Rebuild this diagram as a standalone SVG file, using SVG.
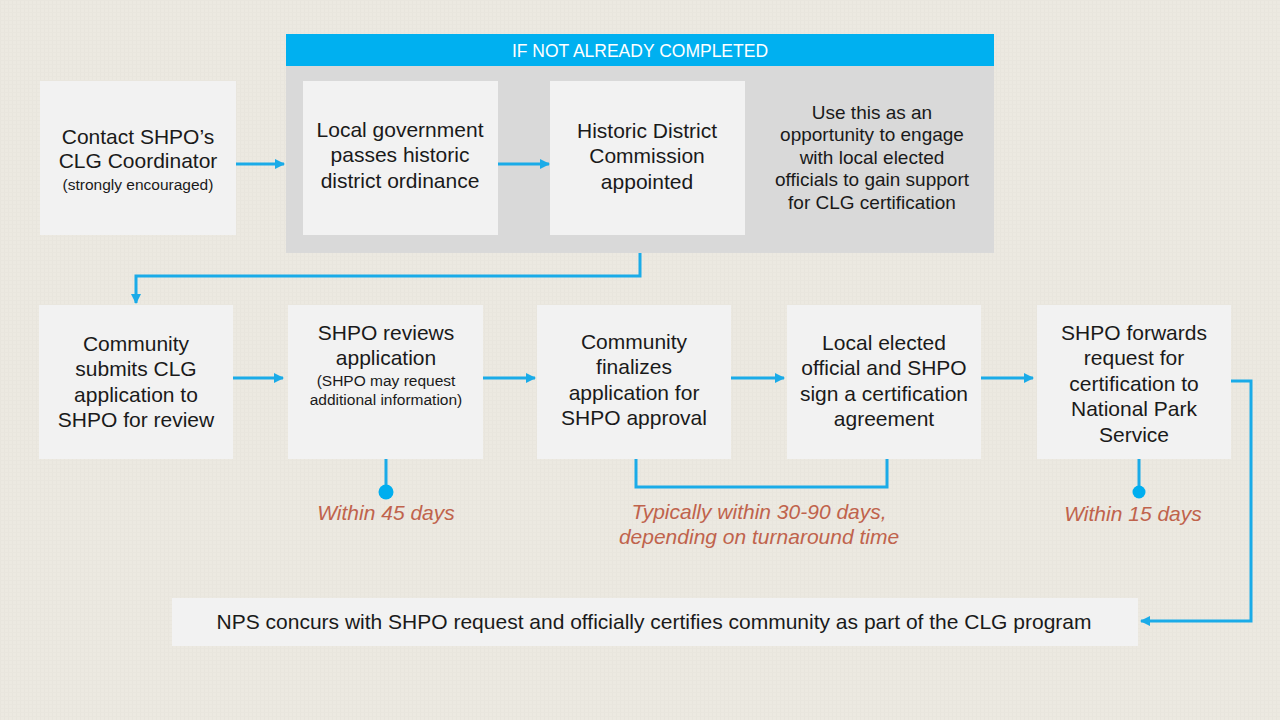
<svg xmlns="http://www.w3.org/2000/svg" width="1280" height="720" viewBox="0 0 1280 720">
<defs>
<marker id="arr" viewBox="0 0 10 10" refX="9" refY="5" markerWidth="3.4" markerHeight="3.4" orient="auto" markerUnits="strokeWidth">
<path d="M0,0 L10,5 L0,10 z" fill="#1AABE8"/>
</marker>
<pattern id="tex" width="4" height="4" patternUnits="userSpaceOnUse">
<rect width="4" height="4" fill="#ECE9E1"/>
<rect width="1" height="4" fill="#E8E5DD"/>
<rect width="4" height="1" fill="#E9E6DE"/>
</pattern>
</defs>
<style>
.box{fill:#F2F2F2}
.t{font-family:"Liberation Sans",Arial,sans-serif;font-size:21px;fill:#1A1A1A;text-anchor:middle}
.s{font-size:15.5px}
.m{font-size:19px}
.o{font-family:"Liberation Sans",Arial,sans-serif;font-size:21px;font-style:italic;fill:#C0634C;text-anchor:middle}
.c{fill:none;stroke:#1AABE8;stroke-width:3}
</style>
<rect width="1280" height="720" fill="url(#tex)"/>

<g id="panel">
<rect x="286" y="66" width="708" height="187" fill="#D9D9D9"/>
<rect x="286" y="34" width="708" height="32" fill="#00B0F0"/>
<text x="640" y="57" style="font-family:'Liberation Sans',Arial,sans-serif;font-size:17.5px;fill:#FFFFFF;text-anchor:middle">IF NOT ALREADY COMPLETED</text>
</g>

<g id="n1">
<rect class="box" x="40" y="81" width="196" height="154"/>
<text class="t" x="138" y="144">Contact SHPO’s</text>
<text class="t" x="138" y="168">CLG Coordinator</text>
<text class="t s" x="138" y="190">(strongly encouraged)</text>
</g>
<g id="n2">
<rect class="box" x="303" y="81" width="195" height="154"/>
<text class="t" x="400" y="137">Local government</text>
<text class="t" x="400" y="162">passes historic</text>
<text class="t" x="400" y="188">district ordinance</text>
</g>
<g id="n3">
<rect class="box" x="550" y="81" width="195" height="154"/>
<text class="t" x="647" y="138">Historic District</text>
<text class="t" x="647" y="163">Commission</text>
<text class="t" x="647" y="189">appointed</text>
</g>
<g id="n4">
<text class="t m" x="872" y="119">Use this as an</text>
<text class="t m" x="872" y="141">opportunity to engage</text>
<text class="t m" x="872" y="164">with local elected</text>
<text class="t m" x="872" y="186">officials to gain support</text>
<text class="t m" x="872" y="209">for CLG certification</text>
</g>

<g id="n5">
<rect class="box" x="39" y="305" width="194" height="154"/>
<text class="t" x="136" y="351">Community</text>
<text class="t" x="136" y="376">submits CLG</text>
<text class="t" x="136" y="402">application to</text>
<text class="t" x="136" y="427">SHPO for review</text>
</g>
<g id="n6">
<rect class="box" x="288" y="305" width="195" height="154"/>
<text class="t" x="386" y="340">SHPO reviews</text>
<text class="t" x="386" y="365">application</text>
<text class="t s" x="386" y="386">(SHPO may request</text>
<text class="t s" x="386" y="405">additional information)</text>
</g>
<g id="n7">
<rect class="box" x="537" y="305" width="194" height="154"/>
<text class="t" x="634" y="349">Community</text>
<text class="t" x="634" y="374">finalizes</text>
<text class="t" x="634" y="400">application for</text>
<text class="t" x="634" y="425">SHPO approval</text>
</g>
<g id="n8">
<rect class="box" x="787" y="305" width="194" height="154"/>
<text class="t" x="884" y="350">Local elected</text>
<text class="t" x="884" y="375">official and SHPO</text>
<text class="t" x="884" y="401">sign a certification</text>
<text class="t" x="884" y="426">agreement</text>
</g>
<g id="n9">
<rect class="box" x="1037" y="305" width="194" height="154"/>
<text class="t" x="1134" y="340">SHPO forwards</text>
<text class="t" x="1134" y="365">request for</text>
<text class="t" x="1134" y="391">certification to</text>
<text class="t" x="1134" y="416">National Park</text>
<text class="t" x="1134" y="442">Service</text>
</g>
<g id="n10">
<rect class="box" x="172" y="598" width="966" height="48"/>
<text class="t" x="654" y="629">NPS concurs with SHPO request and officially certifies community as part of the CLG program</text>
</g>

<g id="labels">
<text class="o" x="386" y="520">Within 45 days</text>
<text class="o" x="759" y="519">Typically within 30-90 days,</text>
<text class="o" x="759" y="544">depending on turnaround time</text>
<text class="o" x="1133" y="521">Within 15 days</text>
</g>

<g id="connectors">
<line class="c" x1="236" y1="164" x2="284" y2="164" marker-end="url(#arr)"/>
<line class="c" x1="498" y1="164" x2="549" y2="164" marker-end="url(#arr)"/>
<polyline class="c" points="640,253 640,276 136,276 136,303" marker-end="url(#arr)"/>
<line class="c" x1="233" y1="378" x2="283" y2="378" marker-end="url(#arr)"/>
<line class="c" x1="483" y1="378" x2="535" y2="378" marker-end="url(#arr)"/>
<line class="c" x1="731" y1="378" x2="784" y2="378" marker-end="url(#arr)"/>
<line class="c" x1="981" y1="378" x2="1033" y2="378" marker-end="url(#arr)"/>
<polyline class="c" points="1231,381 1251,381 1251,621 1141,621" marker-end="url(#arr)"/>
<polyline class="c" points="636,459 636,487 887,487 887,459"/>
<line class="c" x1="386" y1="459" x2="386" y2="490"/>
<circle cx="386" cy="492" r="7.5" fill="#00AEEF"/>
<line class="c" x1="1139" y1="459" x2="1139" y2="490"/>
<circle cx="1139" cy="492" r="6.5" fill="#00AEEF"/>
</g>
</svg>
